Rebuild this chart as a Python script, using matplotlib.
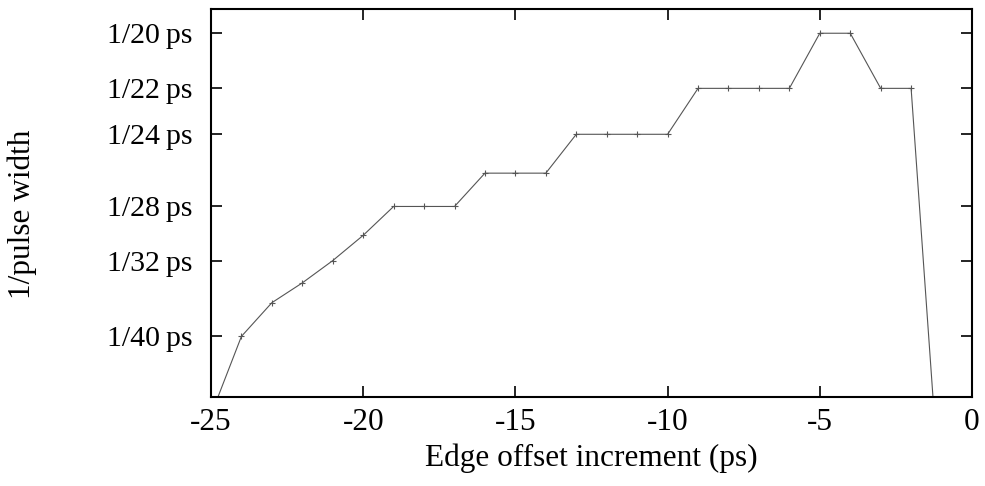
import matplotlib.pyplot as plt

# edge offset increment (ps) and measured pulse width (ps)
offsets = [-25, -24, -23, -22, -21, -20, -19, -18, -17, -16, -15, -14, -13,
           -12, -11, -10, -9, -8, -7, -6, -5, -4, -3, -2, -1]
widths = [54, 40, 36, 34, 32, 30, 28, 28, 28, 26, 26, 26, 24,
          24, 24, 24, 22, 22, 22, 22, 20, 20, 22, 22, 100]

ytick_widths = [20, 22, 24, 28, 32, 40]
xticks = [-25, -20, -15, -10, -5, 0]

plt.rcParams['font.family'] = ['Liberation Serif', 'DejaVu Serif']

fig = plt.figure(figsize=(9.85, 4.86), dpi=100)
ax = fig.add_axes([0.2142, 0.1831, 0.9868 - 0.2142, 0.9815 - 0.1831])

inv = [1.0 / w for w in widths]
ax.plot(offsets, inv, color='#555555', lw=0.8, marker='+', ms=5, mew=0.8)

ax.set_xlim(-25, 0)
ax.set_ylim(0.02, 0.052)
ax.set_xticks(xticks)
ax.set_xticklabels([str(t) for t in xticks], fontsize=22.5)
ax.set_yticks([1.0 / w for w in ytick_widths])
ax.set_yticklabels(['1/%d\u2009ps' % w for w in ytick_widths], fontsize=21.5)

ax.tick_params(direction='in', length=8, width=1.2, top=True, right=True)
ax.tick_params(axis='x', pad=8)
ax.tick_params(axis='y', pad=13)
for s in ax.spines.values():
    s.set_linewidth(1.5)

ax.set_xlabel('Edge offset increment (ps)', fontsize=22.5)
ax.set_ylabel('1/pulse width', fontsize=22.5)
ax.xaxis.set_label_coords(0.5, -0.12)
ax.yaxis.set_label_coords(-0.228, 0.47)

fig.savefig('out.png', dpi=100)
